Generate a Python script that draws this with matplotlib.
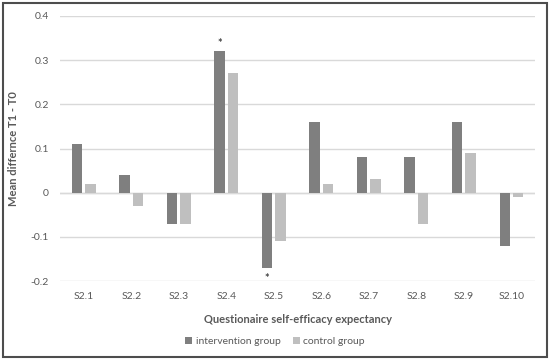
import numpy as np
import matplotlib.pyplot as plt
from matplotlib.patches import Rectangle

### Data.
items = ['S2.1', 'S2.2', 'S2.3', 'S2.4', 'S2.5', 'S2.6', 'S2.7', 'S2.8', 'S2.9', 'S2.10']
intervention = [0.11, 0.04, -0.07, 0.32, -0.17, 0.16, 0.08, 0.08, 0.16, -0.12]
control = [0.02, -0.03, -0.07, 0.27, -0.11, 0.02, 0.03, -0.07, 0.09, -0.01]
significant = ['S2.4', 'S2.5']  # marked with * on the intervention bar

plt.rcParams['font.family'] = ['Lato', 'DejaVu Sans']
txt = '#595959'

fig = plt.figure(figsize=(5.5, 3.6), dpi=100)
ax = fig.add_axes([0.109, 0.219, 0.864, 0.737])

x = np.arange(len(items))
w = 0.22
ax.bar(x - 0.14, intervention, w, color='#7f7f7f', label='intervention group', zorder=3)
ax.bar(x + 0.14, control, w, color='#bfbfbf', label='control group', zorder=3)

# significance stars
for i, name in enumerate(items):
    if name in significant:
        v = intervention[i]
        off = 0.006 if v > 0 else -0.012
        ax.text(x[i] - 0.14, v + off, '*', ha='center', va='bottom' if v > 0 else 'top',
                fontsize=8, fontweight='bold', color='#404040')

ax.set_ylim(-0.2, 0.4)
ax.set_xlim(-0.5, len(items) - 0.5)
ax.set_yticks([-0.2, -0.1, 0, 0.1, 0.2, 0.3, 0.4])
ax.set_yticklabels(['-0.2', '-0.1', '0', '0.1', '0.2', '0.3', '0.4'])
ax.set_xticks(x)
ax.set_xticklabels(items)
ax.yaxis.grid(True, color='#d9d9d9', lw=1, zorder=0)
ax.axhline(0, color='#d9d9d9', lw=1, zorder=1)
for s in ax.spines.values():
    s.set_visible(False)
ax.tick_params(axis='both', length=0, labelsize=7.5, labelcolor=txt)
ax.tick_params(axis='x', pad=8)
ax.tick_params(axis='y', pad=8)

ax.set_ylabel('Mean differnce T1 - T0', fontsize=8, fontweight='bold', color=txt, labelpad=8)
ax.set_xlabel('Questionaire self-efficacy expectancy', fontsize=8, fontweight='bold',
              color=txt, labelpad=9)

fig.legend(loc='center', bbox_to_anchor=(0.5, 0.052), ncol=2, frameon=False,
           fontsize=7.5, labelcolor=txt, handlelength=0.7, handleheight=0.7,
           handletextpad=0.3, columnspacing=1.2)

# outer frame
fig.patches.append(Rectangle((0.006, 0.008), 0.988, 0.984, transform=fig.transFigure,
                             fill=False, edgecolor='#4d4d4d', lw=1.5))

fig.savefig('out.png', dpi=100)
